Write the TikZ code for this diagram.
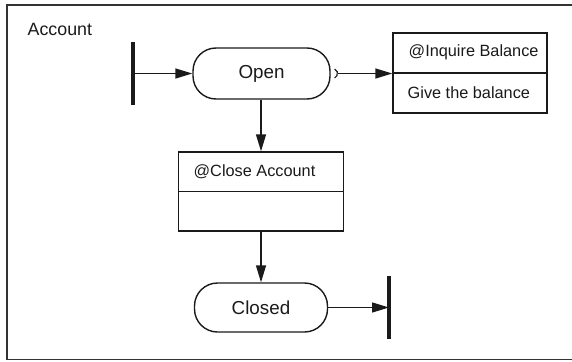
\documentclass[tikz,border=0pt]{standalone}
\usepackage{fontspec}
\setmainfont{Liberation Sans}
\usetikzlibrary{arrows.meta}
\definecolor{ink}{HTML}{1A1A1A}
\definecolor{framegray}{HTML}{333333}
\begin{document}
\begin{tikzpicture}[x=1pt,y=-1pt,
  line width=1.4pt, draw=ink, text=ink,
  state/.style={draw, rounded corners=23pt, inner sep=0pt, font=\fontsize{18.8}{20}\selectfont},
  compbox/.style={draw, inner sep=0pt},
  boxtext/.style={anchor=west, inner sep=0pt, font=\fontsize{16.3}{18}\selectfont},
  bar/.style={line width=3.6pt, line cap=butt},
  flow/.style={-{Triangle[length=17pt,width=10pt]}}]
  \useasboundingbox (0,0) rectangle (572,361);
  % outer frame
  \draw[framegray, line width=1.5pt] (585,5) -- (7,5) -- (7,359.5) -- (585,359.5);
  \node[anchor=west, inner sep=0pt, font=\fontsize{17.8}{20}\selectfont] (title) at (27,29) {Account};

  % states
  \node[state, minimum width=137pt, minimum height=51pt] (open) at (261.5,73.5) {Open};
  \node[state, minimum width=133pt, minimum height=49pt] (closed) at (261,307.5) {Closed};

  % event boxes
  \node[compbox, minimum width=154pt, minimum height=80pt] (inq) at (470,73) {};
  \draw[line width=1.2pt] (inq.west) -- (inq.east);
  \node[boxtext] (inqlabel) at (408,52.5) {@Inquire Balance};
  \node[boxtext] (inqaction) at (407,93) {Give the balance};

  \node[compbox, minimum width=165pt, minimum height=79pt] (close) at (261,191.5) {};
  \draw[line width=1.2pt] (close.west) -- (close.east);
  \node[boxtext] (closelabel) at (193,171.5) {@Close Account};

  % start and end bars
  \coordinate (starttop) at (133,42);
  \coordinate (startbot) at (133,105);
  \coordinate (startmid) at (133,73.5);
  \draw[bar] (starttop) -- (startbot);
  \coordinate (endtop) at (389,276);
  \coordinate (endbot) at (389,339);
  \coordinate (endmid) at (389,307.5);
  \draw[bar] (endtop) -- (endbot);

  % connectors
  \draw[flow] (startmid) -- (open.west);
  \coordinate (hook) at (332.5,73.5);
  \draw[line width=1.2pt] ([shift={(-65:5)}]hook) arc[start angle=-65, end angle=65, radius=5];
  \coordinate (hookend) at (337.5,73.5);
  \draw[flow] (hookend) -- (inq.west |- hookend);
  \draw[flow] (open.south -| close.north) -- (close.north);
  \draw[flow] (close.south) -- (closed.north);
  \draw[flow] (closed.east) -- (endmid);
\end{tikzpicture}
\end{document}
